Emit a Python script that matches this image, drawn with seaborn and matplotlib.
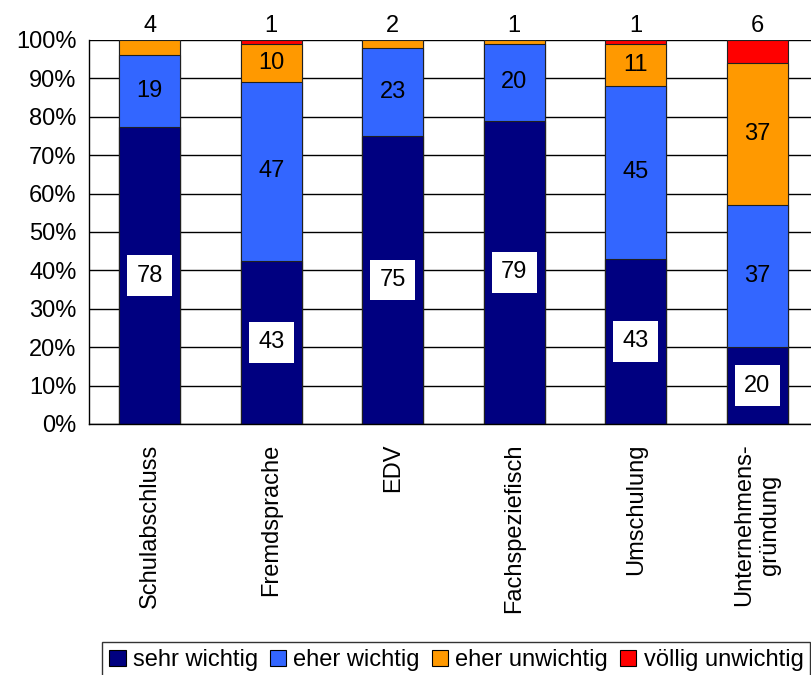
import matplotlib
matplotlib.use("Agg")
import matplotlib.pyplot as plt
from matplotlib.patches import Patch
import seaborn as sns
import numpy as np

categories = ["Schulabschluss", "Fremdsprache", "EDV", "Fachspeziefisch",
              "Umschulung", "Unternehmens-\ngründung"]
series_names = ["sehr wichtig", "eher wichtig", "eher unwichtig", "völlig unwichtig"]
sehr_wichtig = [78, 43, 75, 79, 43, 20]
eher_wichtig = [19, 47, 23, 20, 45, 37]
eher_unwichtig = [4, 10, 2, 1, 11, 37]
voellig_unwichtig = [0, 1, 0, 0, 1, 6]
colors = ["#000080", "#3366FF", "#FF9900", "#FF0000"]

sns.set_style("white")
plt.rcParams["font.family"] = ["Liberation Sans", "DejaVu Sans"]
plt.rcParams["text.color"] = "black"
plt.rcParams["xtick.color"] = "black"
plt.rcParams["ytick.color"] = "black"
plt.rcParams["axes.labelcolor"] = "black"

FS = 17

vals = np.array([sehr_wichtig, eher_wichtig, eher_unwichtig, voellig_unwichtig], dtype=float)
totals = vals.sum(axis=0)
pct = vals / totals * 100
cum = np.cumsum(pct, axis=0)

fig = plt.figure(figsize=(8.12, 6.75), dpi=100)
ax = fig.add_axes([89 / 812, 1 - 424 / 675, 1 - 89 / 812, (424 - 40) / 675])

x = list(range(len(categories)))
for i in range(3, -1, -1):
    sns.barplot(x=x, y=cum[i], color=colors[i], width=0.5, errorbar=None,
                edgecolor="#202020", linewidth=0.8, ax=ax, saturation=1, native_scale=True)

# labels
for j in x:
    nz = [i for i in range(4) if vals[i, j] > 0]
    top = nz[-1]
    for i in nz:
        v = int(vals[i, j])
        if i == top and i >= 2:
            ax.annotate(str(v), xy=(j, 100), xytext=(0, 2), textcoords="offset points",
                        ha="center", va="bottom", fontsize=FS, annotation_clip=False)
        else:
            lo = cum[i - 1, j] if i > 0 else 0
            y = (lo + cum[i, j]) / 2
            if i == 0:
                ax.text(j, y, str(v), ha="center", va="center", fontsize=FS,
                        bbox=dict(boxstyle="square,pad=0.4", fc="white", ec="none"))
            else:
                ax.text(j, y, str(v), ha="center", va="center", fontsize=FS)

ax.set_ylim(0, 100)
ax.set_xlim(-0.5, 5.45)
ax.set_yticks(range(0, 101, 10))
ax.set_yticklabels([f"{t}%" for t in range(0, 101, 10)], fontsize=FS)
ax.yaxis.grid(True, color="black", linewidth=1)
ax.set_axisbelow(True)
ax.set_xticks(x)
ax.set_xticklabels(categories, rotation=90, fontsize=FS, va="top", ha="center",
                   multialignment="center")
ax.set_xticks([k - 0.5 for k in range(len(categories))], minor=True)
ax.tick_params(axis="x", which="major", length=0, pad=14)
ax.tick_params(axis="x", which="minor", length=7, width=1, color="black", direction="out")
ax.tick_params(axis="y", length=6, width=1, color="black", direction="out", pad=3)
ax.set_xlabel("")
ax.set_ylabel("")
for s in ["top", "right"]:
    ax.spines[s].set_visible(False)
for s in ["left", "bottom"]:
    ax.spines[s].set_color("black")
    ax.spines[s].set_linewidth(1)

handles = [Patch(facecolor=c, edgecolor="black", linewidth=0.8) for c in colors]
leg = fig.legend(handles, series_names, loc="lower center", bbox_to_anchor=(0.562, -0.005),
                 ncol=4, fontsize=FS, frameon=True, fancybox=False, edgecolor="black",
                 handlelength=0.7, handleheight=0.7, handletextpad=0.3, columnspacing=0.5,
                 borderpad=0.3, borderaxespad=0)
leg.get_frame().set_linewidth(1)

fig.savefig("out.png", dpi=100)
